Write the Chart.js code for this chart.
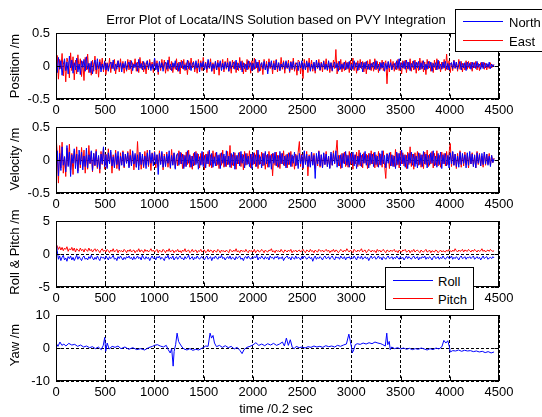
<!DOCTYPE html>
<html>
<head>
<meta charset="utf-8">
<script src="https://cdn.jsdelivr.net/npm/chart.js@4"></script>
<style>
  body { margin: 0; background: #fff; }
  #fig { position: relative; width: 542px; height: 417px; background: #fff; overflow: hidden;
         font-family: "Liberation Sans", Arial, sans-serif; font-size: 13px; color: #000; }
  #fig canvas { position: absolute; left: 0; top: 0; }
  .txt { position: absolute; white-space: nowrap; z-index: 5; }
  .ylab { transform: translate(-50%, -50%) rotate(-90deg); }
  .legend { position: absolute; z-index: 6; background: #fff; border: 1px solid #000; box-sizing: border-box; }
  .legend .ln { position: absolute; height: 0; border-top: 1px solid; }
  .legend .lt { position: absolute; white-space: nowrap; transform: translateY(-50%); }
</style>
</head>
<body>
<div id="fig">
  <canvas id="c1" width="542" height="417"></canvas>
  <canvas id="c2" width="542" height="417"></canvas>
  <canvas id="c3" width="542" height="417"></canvas>
  <canvas id="c4" width="542" height="417"></canvas>

  <div class="txt" style="left:276px; top:19px; transform:translate(-50%,-50%);">Error Plot of Locata/INS Solution based on PVY Integration</div>
  <div class="txt ylab" style="left:14px; top:66px;">Position /m</div>
  <div class="txt ylab" style="left:14px; top:159px;">Velocity /m</div>
  <div class="txt ylab" style="left:14px; top:252px;">Roll &amp; Pitch /m</div>
  <div class="txt ylab" style="left:14px; top:345px;">Yaw /m</div>
  <div class="txt" style="left:276px; top:408px; transform:translate(-50%,-50%);">time /0.2 sec</div>

  <div class="legend" style="left:455px; top:9px; width:100px; height:43px;">
    <div class="ln" style="left:7px; width:40px; top:11px; border-color:#0000ff;"></div>
    <div class="lt" style="left:53px; top:12px;">North</div>
    <div class="ln" style="left:7px; width:40px; top:30px; border-color:#ff0000;"></div>
    <div class="lt" style="left:53px; top:31px;">East</div>
  </div>
  <div class="legend" style="left:385px; top:267px; width:89px; height:43px;">
    <div class="ln" style="left:7px; width:40px; top:12px; border-color:#0000ff;"></div>
    <div class="lt" style="left:52px; top:13px;">Roll</div>
    <div class="ln" style="left:7px; width:40px; top:30px; border-color:#ff0000;"></div>
    <div class="lt" style="left:52px; top:31px;">Pitch</div>
  </div>
</div>

<script>
// error samples (position / velocity in m, roll & pitch, yaw)
const posNorth = [
  0.04,-0.1,0.13,-0.05,0.08,-0.14,0.02,0.11,-0.07,0.06,-0.12,0.15,-0.03,0.09,-0.11,0.05,-0.06,0.12,-0.09,0.03,
  -0.13,0.08,-0.02,0.1,-0.08,0.14,-0.05,0.04,-0.1,0.07,-0.12,0.02,0.09,-0.06,0.11,-0.04,0.06,-0.09,0.03,-0.05,
  0.07,-0.06,0.04,-0.08,0.02,0.06,-0.04,0.09,-0.07,0.03,-0.05,0.08,-0.02,0.05,-0.09,0.04,-0.03,0.07,-0.06,0.02,
  0.06,-0.04,0.08,-0.07,0.03,-0.02,0.05,-0.08,0.1,-0.03,0.04,-0.06,0.07,-0.05,0.02,0.08,-0.04,0.05,-0.07,0.03,
  -0.05,0.12,-0.06,0.04,-0.09,0.07,-0.03,0.05,-0.08,0.02,0.06,-0.05,0.09,-0.04,0.03,-0.07,0.05,-0.02,0.08,-0.06,
  0.04,-0.08,0.06,-0.03,0.07,-0.05,0.02,-0.06,0.09,-0.04,0.05,-0.07,0.03,0.06,-0.05,0.08,-0.03,0.04,-0.09,0.05,
  -0.02,0.07,-0.06,0.04,-0.05,0.1,-0.03,0.06,-0.08,0.03,-0.04,0.07,-0.06,0.05,-0.02,0.08,-0.07,0.04,-0.05,0.06,
  -0.03,0.05,-0.08,0.07,-0.04,0.02,0.06,-0.05,0.09,-0.06,0.04,-0.03,0.07,-0.09,0.05,-0.04,0.03,-0.06,0.08,-0.02,
  0.05,-0.07,0.04,-0.05,0.1,-0.03,0.06,-0.08,0.02,0.05,-0.04,0.07,-0.06,0.03,-0.12,0.06,-0.02,0.08,-0.05,0.04,
  -0.06,0.09,-0.04,0.05,-0.07,0.03,-0.02,0.06,-0.05,0.08,-0.03,0.04,-0.08,0.06,-0.04,0.07,-0.05,0.02,0.05,-0.07,
  0.06,-0.03,0.08,-0.05,0.04,-0.06,0.07,-0.02,0.05,-0.08,0.03,-0.04,0.06,-0.07,0.09,-0.03,0.05,-0.06,0.04,-0.02,
  0.07,-0.05,0.03,-0.06,0.08,-0.04,0.05,-0.07,0.02,0.06,-0.03,0.04,-0.08,0.07,-0.05,0.03,-0.04,0.06,-0.06,0.05,
  -0.04,0.07,-0.06,0.03,-0.05,0.08,-0.02,0.05,-0.07,0.04,-0.03,0.06,-0.09,0.05,-0.04,0.07,-0.05,0.03,-0.06,0.04,
  -0.02,0.06,-0.05,0.08,-0.04,0.03,-0.07,0.05,-0.03,0.06,-0.08,0.04,-0.05,0.07,-0.03,0.05,-0.06,0.02,0.04,-0.05,
  0.08,-0.04,0.11,-0.06,0.05,-0.03,0.07,-0.05,0.09,-0.04,0.06,-0.07,0.04,-0.02,0.08,-0.05,0.06,-0.03,0.07,-0.06,
  0.05,-0.04,0.08,-0.06,0.03,-0.05,0.07,-0.03,0.06,-0.08,0.04,-0.02,0.05,-0.06,0.09,-0.04,0.03,-0.05,0.06,-0.03,
  0.07,-0.05,0.04,-0.06,0.03,0.05,-0.04,0.08,-0.03,0.06,-0.05,0.02,0.07,-0.06,0.04,-0.03,0.05,-0.07,0.06,-0.02,
  0.04,-0.05,0.06,-0.03,0.05,-0.04,0.07,-0.02,0.03,-0.05,0.06,-0.04,0.05,-0.03,0.04,-0.02,0.06,-0.04,0.03,-0.01,
  0.02
];
const posEast = [
  -0.08,0.16,-0.2,0.1,-0.04,0.19,-0.15,0.08,-0.24,0.12,0.05,-0.18,0.2,-0.07,0.14,-0.21,0.09,-0.12,0.17,-0.05,
  0.11,-0.16,0.07,-0.22,0.13,-0.06,0.18,-0.1,0.04,-0.14,0.09,-0.08,0.15,-0.12,0.06,-0.17,0.1,-0.04,0.12,-0.09,
  0.08,-0.13,0.05,-0.07,0.12,-0.1,0.06,-0.04,0.1,-0.12,0.03,0.08,-0.09,0.11,-0.05,0.07,-0.11,0.04,-0.08,0.1,
  -0.06,0.09,-0.12,0.05,-0.03,0.11,-0.08,0.06,-0.1,0.13,-0.04,0.07,-0.09,0.05,-0.12,0.08,-0.06,0.1,-0.03,0.06,
  -0.1,0.12,-0.05,0.08,-0.13,0.06,-0.07,0.1,-0.04,0.09,-0.11,0.05,-0.08,0.14,-0.06,0.07,-0.1,0.04,-0.05,0.11,
  -0.08,0.06,-0.12,0.09,-0.04,0.1,-0.07,0.05,-0.13,0.08,-0.06,0.12,-0.03,0.07,-0.09,0.05,-0.11,0.1,-0.05,0.08,
  -0.07,0.13,-0.05,0.06,-0.1,0.08,-0.04,0.11,-0.08,0.05,-0.12,0.07,-0.06,0.09,-0.14,0.06,-0.03,0.1,-0.09,0.07,
  -0.05,0.12,-0.08,0.06,-0.11,0.09,-0.04,0.07,-0.1,0.05,-0.07,0.13,-0.06,0.08,-0.12,0.04,-0.09,0.1,-0.05,0.07,
  -0.11,0.08,-0.06,0.12,-0.04,0.06,-0.1,0.09,-0.07,0.05,-0.13,0.1,-0.05,0.07,-0.08,0.11,-0.04,0.06,-0.12,0.08,
  -0.06,0.1,-0.09,0.05,-0.07,0.13,-0.05,0.08,-0.11,0.06,-0.04,0.09,-0.1,0.07,-0.06,0.12,-0.08,0.05,-0.14,0.09,
  0.07,-0.12,0.06,-0.19,0.1,-0.05,0.08,-0.1,0.12,-0.06,0.09,-0.08,0.05,-0.11,0.07,-0.04,0.1,-0.07,0.06,-0.09,
  0.08,-0.05,0.11,-0.07,0.06,-0.1,0.05,-0.08,0.09,-0.04,0.25,-0.12,0.07,-0.06,0.1,-0.09,0.05,-0.07,0.08,-0.05,
  0.06,-0.1,0.09,-0.05,0.12,-0.07,0.05,-0.11,0.08,-0.06,0.1,-0.04,0.07,-0.09,0.06,-0.12,0.08,-0.05,0.1,-0.07,
  0.05,-0.08,0.11,-0.06,0.07,-0.1,0.06,-0.05,0.09,-0.07,0.04,0.08,-0.27,0.06,-0.09,0.1,-0.05,0.07,-0.08,0.05,
  -0.06,0.1,-0.07,0.05,-0.12,0.08,-0.04,0.09,-0.1,0.06,-0.05,0.11,-0.08,0.07,-0.06,0.09,-0.11,0.05,-0.07,0.12,
  -0.05,0.08,-0.09,0.06,-0.13,0.1,-0.04,0.07,-0.08,0.05,-0.1,0.09,-0.06,0.11,-0.05,0.07,-0.09,0.06,-0.04,0.1,
  -0.07,0.18,-0.06,0.08,-0.1,0.05,-0.07,0.09,-0.04,0.06,-0.08,0.1,-0.05,0.07,-0.09,0.04,-0.06,0.08,-0.05,0.07,
  -0.04,0.06,-0.08,0.05,-0.03,0.07,-0.06,0.04,-0.07,0.05,-0.02,0.06,-0.05,0.04,-0.06,0.03,-0.04,0.05,-0.03,0.02,
  0.01
];
const velNorth = [
  -0.06,0.14,-0.24,0.1,-0.16,0.2,-0.08,0.05,-0.18,0.22,-0.1,0.12,-0.25,0.08,-0.05,0.17,-0.13,0.09,-0.2,0.15,
  -0.07,0.12,-0.15,0.06,-0.1,0.18,-0.12,0.08,-0.05,0.14,-0.16,0.1,-0.08,0.13,-0.11,0.07,-0.14,0.09,-0.06,0.2,
  -0.1,0.08,-0.13,0.11,-0.06,0.15,-0.09,0.05,-0.12,0.1,-0.07,0.13,-0.14,0.06,-0.08,0.12,-0.1,0.09,-0.05,0.11,
  -0.12,0.07,-0.09,0.14,-0.06,0.1,-0.11,0.08,-0.15,0.12,-0.07,0.09,-0.1,0.06,-0.13,0.11,-0.08,0.15,-0.05,0.1,
  -0.09,0.12,-0.06,0.08,-0.22,0.1,-0.07,0.13,-0.11,0.06,-0.1,0.09,-0.05,0.14,-0.12,0.07,-0.08,0.11,-0.14,0.06,
  0.1,-0.08,0.12,-0.06,0.09,-0.13,0.07,-0.1,0.14,-0.05,0.08,-0.11,0.06,-0.09,0.12,-0.07,0.1,-0.14,0.05,-0.08,
  0.13,-0.1,0.07,-0.12,0.09,-0.06,0.15,-0.08,0.1,-0.11,0.05,-0.09,0.12,-0.07,0.08,-0.13,0.11,-0.05,0.09,-0.1,
  0.14,-0.07,0.06,-0.11,0.1,-0.08,0.12,-0.14,0.07,-0.06,0.11,-0.09,0.13,-0.05,0.08,-0.12,0.1,-0.07,0.06,-0.1,
  0.09,-0.13,0.11,-0.06,0.08,-0.1,0.15,-0.07,0.05,-0.12,0.1,-0.08,0.13,-0.06,0.09,-0.11,0.07,-0.14,0.1,-0.05,
  0.12,-0.09,0.07,-0.11,0.13,-0.06,0.1,-0.08,0.06,-0.12,0.09,-0.07,0.11,-0.1,0.08,-0.05,0.12,-0.09,0.07,-0.13,
  0.1,-0.06,0.08,-0.12,0.14,-0.07,0.09,-0.1,0.06,-0.11,0.12,-0.08,0.07,-0.28,0.1,-0.06,0.13,-0.09,0.08,-0.12,
  0.11,-0.07,0.09,-0.1,0.06,-0.13,0.12,-0.08,0.1,-0.05,0.14,-0.11,0.07,-0.09,0.08,-0.12,0.1,-0.06,0.13,-0.08,
  0.07,-0.11,0.1,-0.06,0.12,-0.09,0.08,-0.13,0.06,-0.07,0.11,-0.1,0.09,-0.05,0.13,-0.08,0.07,-0.12,0.1,-0.06,
  0.09,-0.1,0.12,-0.07,0.06,-0.11,0.1,-0.08,0.14,-0.06,0.07,-0.12,0.09,-0.05,0.11,-0.09,0.08,-0.1,0.06,-0.13,
  0.12,-0.07,0.1,-0.09,0.15,-0.06,0.08,-0.11,0.07,-0.13,0.1,-0.05,0.12,-0.08,0.09,-0.1,0.06,-0.12,0.11,-0.07,
  0.08,-0.1,0.13,-0.06,0.09,-0.12,0.07,-0.08,0.11,-0.05,0.14,-0.09,0.06,-0.11,0.1,-0.07,0.12,-0.13,0.08,-0.06,
  0.1,-0.09,0.07,-0.12,0.11,-0.06,0.13,-0.08,0.09,-0.1,0.06,-0.11,0.12,-0.07,0.1,-0.05,0.08,-0.12,0.11,-0.08,
  0.13,-0.06,0.09,-0.1,0.07,-0.12,0.11,-0.05,0.08,-0.09,0.1,-0.07,0.12,-0.06,0.09,-0.08,0.06,-0.1,0.07,-0.04,
  0.02
];
const velEast = [
  0.38,0.1,-0.35,0.22,-0.12,0.27,-0.2,0.05,-0.25,0.18,-0.08,0.24,-0.15,0.1,-0.22,0.14,-0.05,0.2,-0.17,0.08,
  -0.12,0.19,-0.1,0.15,-0.2,0.07,-0.14,0.22,-0.06,0.12,-0.18,0.1,-0.09,0.16,-0.13,0.05,-0.2,0.13,-0.07,0.18,
  -0.14,0.09,-0.11,0.17,-0.06,0.12,-0.2,0.08,-0.1,0.15,-0.13,0.06,-0.16,0.11,-0.07,0.14,-0.12,0.09,-0.05,0.13,
  -0.1,0.16,-0.08,0.12,-0.15,0.07,-0.11,0.28,-0.09,0.1,-0.14,0.06,-0.12,0.13,-0.07,0.15,-0.1,0.08,-0.16,0.11,
  -0.05,0.13,-0.12,0.08,-0.1,0.14,-0.06,0.11,-0.15,0.09,-0.08,0.12,-0.11,0.06,-0.13,0.16,-0.07,0.1,-0.12,0.08,
  -0.09,0.14,-0.06,0.11,-0.13,0.08,-0.1,0.12,-0.07,0.15,-0.11,0.06,-0.14,0.1,-0.08,0.13,-0.05,0.09,-0.12,0.1,
  -0.07,0.12,-0.15,0.09,-0.06,0.13,-0.1,0.08,-0.12,0.14,-0.05,0.11,-0.09,0.07,-0.13,0.1,-0.08,0.15,-0.11,0.06,
  -0.1,0.13,-0.07,0.22,-0.12,0.08,-0.09,0.11,-0.14,0.07,-0.06,0.12,-0.1,0.09,-0.15,0.13,-0.08,0.1,-0.06,0.14,
  -0.12,0.09,-0.07,0.11,-0.1,0.15,-0.13,0.08,-0.06,0.12,-0.09,0.1,-0.14,0.07,-0.11,0.13,-0.05,0.09,-0.24,0.1,
  -0.08,0.12,-0.11,0.07,-0.13,0.1,-0.06,0.14,-0.09,0.08,-0.12,0.11,-0.07,0.13,-0.1,0.06,-0.14,0.09,-0.08,0.12,
  0.28,-0.1,0.09,-0.14,0.11,-0.06,0.13,-0.24,0.08,-0.1,0.12,-0.07,0.1,-0.13,0.06,-0.09,0.14,-0.11,0.08,-0.12,
  0.1,-0.07,0.13,-0.1,0.06,-0.12,0.09,-0.08,0.14,-0.06,0.11,0.3,-0.09,0.07,-0.13,0.1,-0.05,0.12,-0.1,0.08,
  -0.11,0.13,-0.07,0.1,-0.14,0.08,-0.06,0.12,-0.1,0.15,-0.09,0.07,-0.12,0.11,-0.05,0.09,-0.13,0.1,-0.08,0.14,
  -0.06,0.11,-0.12,0.08,-0.1,0.13,-0.07,0.09,-0.11,0.14,-0.08,-0.28,0.1,0.06,-0.13,0.12,-0.09,0.07,-0.1,0.16,
  -0.08,0.1,-0.12,0.14,-0.06,0.11,-0.09,0.08,-0.13,0.12,-0.07,0.2,-0.1,0.09,-0.14,0.11,-0.06,0.13,-0.08,0.1,
  -0.11,0.08,-0.13,0.12,-0.07,0.15,-0.1,0.09,-0.06,0.13,-0.12,0.1,-0.08,0.14,-0.09,0.07,-0.11,0.12,-0.06,0.1,
  -0.09,0.13,-0.07,0.11,0.25,-0.1,0.12,-0.08,0.09,-0.13,0.1,-0.06,0.14,-0.11,0.08,-0.09,0.12,-0.07,0.1,-0.12,
  0.09,-0.06,0.11,-0.1,0.08,-0.12,0.13,-0.07,0.1,-0.09,0.06,-0.11,0.12,-0.08,0.09,-0.06,0.1,-0.08,0.07,-0.04,
  0.03
];
const roll = [
  2.0,0.5,-0.8,-0.3,-1.0,-0.5,-0.2,-0.9,-0.6,-1.1,-0.4,-0.7,-0.3,-0.9,-0.5,-1.0,-0.6,-0.2,-0.8,-0.4,
  -0.7,-1.0,-0.5,-0.3,-0.8,-0.6,-0.9,-0.4,-0.7,-0.2,-0.6,-0.9,-0.5,-0.8,-0.3,-0.7,-1.0,-0.4,-0.6,-0.5,
  -0.8,-0.3,-0.6,-0.9,-0.4,-0.7,-0.5,-0.2,-0.8,-0.6,-1.0,-0.4,-0.7,-0.3,-0.6,-0.9,-0.5,-0.8,-0.4,-0.6,
  -0.3,-0.7,-0.5,-0.9,-0.4,-0.8,-0.6,-0.3,-0.7,-0.5,-0.9,-0.2,-0.6,-0.8,-0.4,-0.7,-0.5,-1.0,-0.6,-0.3,
  -0.7,-0.5,-0.9,-0.4,-0.6,-0.3,-0.8,-0.5,-0.7,-1.0,-0.4,-0.6,-0.2,-0.8,-0.5,-0.7,-0.3,-0.9,-0.6,-0.4,
  -0.8,-0.5,-0.3,-0.7,-0.6,-0.9,-0.4,-0.7,-0.5,-0.2,-0.8,-0.6,-0.4,-0.9,-0.5,-0.7,-0.3,-0.6,-0.8,-0.5,
  -0.4,-0.7,-0.9,-0.5,-0.3,-0.8,-0.6,-0.4,-1.0,-0.5,-0.7,-0.3,-0.6,-0.8,-0.4,-0.6,-0.2,-0.7,-0.5,-0.9,
  -0.6,-0.4,-0.7,-0.3,-0.8,-0.5,-0.6,-0.9,-0.4,-0.7,-0.5,-0.3,-0.8,-0.6,-1.0,-0.5,-0.4,-0.7,-0.3,-0.6,
  -0.8,-0.5,-0.7,-0.4,-0.6,-0.2,-0.9,-0.5,-0.7,-0.3,-0.6,-0.8,-0.4,-0.7,-0.5,-0.9,-0.3,-0.6,-0.5,-0.8,
  -0.4,-0.6,-0.3,-0.8,-0.5,-0.7,-0.4,-1.0,-0.6,-0.5,-0.3,-0.7,-0.5,-0.9,-0.4,-0.6,-0.8,-0.3,-0.7,-0.5,
  -0.6,-0.9,-0.4,-0.7,-0.3,-0.5,-0.8,-0.6,-0.4,-0.7,-0.5,-1.1,-0.6,-0.3,-0.8,-0.5,-0.7,-0.4,-0.6,-0.9,
  -0.5,-0.3,-0.7,-0.6,-0.4,-0.8,-0.5,-0.3,-0.7,-0.9,-0.4,-0.6,-0.5,-0.8,-0.3,-0.6,-0.7,-0.4,-0.9,-0.5,
  -0.6,-0.4,-0.8,-0.5,-0.7,-0.3,-0.6,-0.9,-0.4,-0.5,-0.7,-0.3,-0.8,-0.6,-0.4,-0.7,-0.5,-1.0,-0.6,-0.3,
  -0.7,-0.5,-0.4,-0.8,-0.6,-0.3,-0.7,-0.5,-0.9,-0.4,-0.6,-0.8,-0.5,-0.3,-0.7,-0.6,-0.4,-0.8,-0.5,-0.7,
  -0.3,-0.6,-0.8,-0.4,-0.7,-0.5,-0.9,-0.6,-0.3,-0.7,-0.4,-0.6,-0.8,-0.5,-0.3,-0.7,-0.6,-0.4,-0.9,-0.5,
  -0.7,-0.4,-0.6,-0.3,-0.8,-0.5,-0.7,-0.4,-0.6,-0.9,-0.5,-0.3,-0.7,-0.6,-0.4,-0.8,-0.5,-0.7,-0.3,-0.6,
  -0.8,-0.5,-0.4,-0.7,-0.6,-0.3,-0.8,-0.5,-0.7,-0.4,-0.6,-0.9,-0.5,-0.3,-0.7,-0.6,-0.4,-0.8,-0.5,-0.6,
  -0.4,-0.7,-0.5,-0.3,-0.8,-0.6,-0.4,-0.7,-0.5,-0.9,-0.6,-0.3,-0.7,-0.5,-0.4,-0.8,-0.6,-0.5,-0.7,-0.4,
  -0.6
];
const pitch = [
  1.5,1.2,0.7,1.1,0.6,1.0,0.5,0.9,0.7,1.1,0.4,0.8,0.6,1.0,0.5,0.9,0.3,0.8,0.6,0.4,
  0.9,0.5,0.7,0.3,0.8,0.6,0.4,0.9,0.5,0.7,0.3,0.6,0.8,0.4,0.7,0.5,0.2,0.6,0.8,0.4,
  0.6,0.3,0.7,0.5,0.2,0.6,0.4,0.8,0.3,0.5,0.7,0.2,0.6,0.4,0.5,0.3,0.7,0.5,0.2,0.6,
  0.4,0.7,0.3,0.5,0.6,0.2,0.5,0.4,0.8,0.3,0.6,0.5,0.2,0.7,0.4,0.6,0.3,0.5,0.8,0.4,
  0.6,0.3,0.5,0.7,0.2,0.6,0.4,0.3,0.7,0.5,0.2,0.6,0.4,0.8,0.3,0.5,0.6,0.2,0.5,0.4,
  0.7,0.3,0.5,0.2,0.6,0.4,0.8,0.3,0.5,0.6,0.2,0.4,0.7,0.3,0.5,0.6,0.2,0.5,0.4,0.7,
  0.3,0.5,0.6,0.2,0.4,0.7,0.3,0.6,0.5,0.2,0.6,0.4,0.3,0.7,0.5,0.2,0.6,0.4,0.5,0.3,
  0.6,0.4,0.2,0.7,0.5,0.3,0.6,0.4,0.8,0.3,0.5,0.2,0.6,0.4,0.5,0.3,0.7,0.4,0.2,0.6,
  0.4,0.5,0.3,0.7,0.2,0.5,0.6,0.3,0.4,0.7,0.5,0.2,0.6,0.4,0.3,0.6,0.5,0.8,0.3,0.5,
  0.2,0.6,0.4,0.5,0.3,0.7,0.4,0.2,0.6,0.5,0.3,0.6,0.4,0.7,0.2,0.5,0.4,0.6,0.3,0.5,
  0.6,0.3,0.5,0.7,0.4,0.2,0.6,0.5,0.3,0.7,0.4,0.5,0.2,0.6,0.4,0.3,0.7,0.5,0.4,0.6,
  0.3,0.5,0.7,0.4,0.6,0.2,0.5,0.4,0.7,0.3,0.6,0.5,0.2,0.4,0.7,0.5,0.3,0.6,0.4,0.8,
  0.5,0.3,0.6,0.4,0.2,0.7,0.5,0.3,0.6,0.4,0.5,0.8,0.3,0.5,0.6,0.2,0.4,0.7,0.5,0.3,
  0.6,0.4,0.5,0.2,0.7,0.4,0.6,0.3,0.5,0.7,0.4,0.2,0.6,0.5,0.3,0.6,0.4,0.5,0.7,0.3,
  0.5,0.2,0.6,0.4,0.3,0.6,0.5,0.7,0.3,0.4,0.6,0.2,0.5,0.4,0.7,0.3,0.5,0.6,0.4,0.2,
  0.6,0.4,0.3,0.5,0.7,0.3,0.4,0.6,0.2,0.5,0.4,0.3,0.6,0.5,0.2,0.4,0.6,0.3,0.5,0.4,
  0.3,0.6,0.4,0.7,0.5,0.3,0.6,0.4,0.8,0.5,0.3,0.6,0.4,0.5,0.7,0.3,0.6,0.5,0.4,0.7,
  0.5,0.3,0.6,0.4,0.7,0.5,0.3,0.6,0.4,0.5,0.8,0.4,0.6,0.3,0.5,0.6,0.4,0.7,0.5,0.4,
  0.5
];
const yawTime = [
  0,20,40,60,80,100,130,160,190,220,250,280,310,340,370,400,430,460,480,495,505,520,540,570,600,630,660,700,740,780,820,860,900,940,980,
  1000,1030,1060,1090,1120,1140,1160,1175,1190,1200,1215,1230,1245,1260,1280,1300,1330,1360,1390,1420,1450,1480,1500,1520,1545,1565,1580,1595,1610,1630,1660,1690,1720,1750,1780,1810,1840,1870,1890,1910,1940,1970,
  2000,2030,2060,2090,2120,2150,2180,2210,2240,2270,2300,2320,2340,2360,2380,2400,2420,2440,2470,
  2500,2530,2560,2590,2620,2650,2680,2710,2740,2770,2800,2830,2860,2890,2920,2950,2975,2990,3000,3010,3025,3040,3060,3090,3120,3150,3180,3210,3240,3270,3300,3320,3345,3360,3370,3385,3395,3410,3440,3470,
  3500,3530,3560,3590,3620,3650,3680,3710,3740,3770,3800,3830,3860,3890,3920,3940,3960,3980,3995,4005,4030,4060,4090,4120,4150,4180,4210,4240,4270,4300,4330,4360,4390,4420,4450
];
const yawValue = [
  1.5,0.5,1.8,0.8,1.2,0.6,1.4,0.9,1.1,0.5,0.9,0.3,0.6,0.1,0.4,-0.2,0.3,-0.5,0.8,3.2,-1.0,1.5,-0.3,0.5,0.2,0.6,-0.2,0.3,-0.4,0.1,-0.5,-0.2,-0.6,0.1,0.5,
  0.8,1.0,0.6,0.3,0.8,-0.5,-1.5,-0.2,-5.5,-1.0,1.0,4.5,2.0,1.2,0.3,-0.3,-0.6,-0.2,-0.7,-0.4,-0.6,-0.1,0.2,0.6,0.5,4.5,3.0,3.8,1.5,0.4,0.8,0.2,0.7,0.1,0.5,-0.3,0.2,-0.8,-1.7,-0.5,0.2,0.5,
  0.9,1.6,0.8,1.2,0.7,1.3,0.9,1.4,0.8,1.2,1.8,0.6,3.0,0.8,2.5,0.2,-0.2,0.5,0.1,
  0.3,0.0,0.4,0.2,0.6,0.3,0.5,0.2,0.7,0.4,0.6,0.3,0.8,0.5,0.9,1.2,4.2,2.0,0.5,-1.5,-0.5,1.0,1.3,1.1,1.5,1.2,1.6,1.3,1.8,1.5,1.3,1.0,0.6,4.5,1.0,2.0,-0.5,0.3,-0.2,0.1,
  -0.3,0.0,-0.4,-0.1,-0.5,-0.2,-0.4,0.0,-0.3,-0.6,-0.2,-0.5,0.0,-0.3,0.4,2.3,1.5,2.2,0.5,-1.2,-0.8,-0.9,-0.6,-1.0,-0.7,-0.9,-0.8,-1.1,-0.9,-1.2,-1.0,-1.4,-1.1,-1.5,-1.2
];

const LAST_SAMPLE = 4450;   // data stops a little before the 4500 axis end
const BLUE = '#0000ff', RED = '#ff0000';

Chart.defaults.font.family = '"Liberation Sans", Arial, sans-serif';
Chart.defaults.font.size = 13;
Chart.defaults.color = '#000';

function samples(vals) {
  const dt = LAST_SAMPLE / (vals.length - 1);
  return vals.map((v, i) => ({ x: i * dt, y: v }));
}

// box round the axes with small inward ticks, like the MATLAB axes
const framePlugin = {
  id: 'frame',
  afterDraw(chart) {
    const { ctx, chartArea: a, scales } = chart;
    const l = Math.round(a.left) + 0.5, r = Math.round(a.right) - 0.5;
    const t = Math.round(a.top) + 0.5, b = Math.round(a.bottom) - 0.5;
    ctx.save();
    ctx.strokeStyle = '#000';
    ctx.lineWidth = 1;
    ctx.strokeRect(l, t, r - l, b - t);
    ctx.beginPath();
    scales.x.ticks.forEach(tk => {
      const x = Math.round(scales.x.getPixelForValue(tk.value)) + 0.5;
      ctx.moveTo(x, t); ctx.lineTo(x, t + 4);
      ctx.moveTo(x, b); ctx.lineTo(x, b - 4);
    });
    scales.y.ticks.forEach(tk => {
      const y = Math.round(scales.y.getPixelForValue(tk.value)) + 0.5;
      ctx.moveTo(l, y); ctx.lineTo(l + 4, y);
      ctx.moveTo(r, y); ctx.lineTo(r - 4, y);
    });
    ctx.stroke();
    ctx.restore();
  }
};

function makePanel(id, top, bottom, yMin, yMax, yStep, datasets) {
  new Chart(document.getElementById(id), {
    type: 'line',
    data: { datasets },
    options: {
      responsive: false,
      animation: false,
      events: [],
      layout: { padding: { left: 0, right: 43, top: top, bottom: 417 - bottom - 20 } },
      elements: { point: { radius: 0 }, line: { borderWidth: 1, tension: 0 } },
      plugins: { legend: { display: false }, tooltip: { enabled: false } },
      scales: {
        x: {
          type: 'linear', min: 0, max: 4500,
          ticks: { stepSize: 500, padding: 4, maxRotation: 0, callback: v => String(v) },
          grid: { color: '#000', drawTicks: false },
          border: { display: false, dash: [3, 2] },
          afterFit: s => { s.height = 20; }
        },
        y: {
          min: yMin, max: yMax,
          ticks: { stepSize: yStep, padding: 6, callback: v => String(v) },
          grid: { color: '#000', drawTicks: false },
          border: { display: false, dash: [3, 2] },
          afterFit: s => { s.width = 56; }
        }
      }
    },
    plugins: [framePlugin]
  });
}

const line = (label, vals, color) => ({ label, data: samples(vals), borderColor: color, fill: false });

makePanel('c1', 33, 99, -0.5, 0.5, 0.5, [line('North', posNorth, BLUE), line('East', posEast, RED)]);
makePanel('c2', 127, 193, -0.5, 0.5, 0.5, [line('North', velNorth, BLUE), line('East', velEast, RED)]);
makePanel('c3', 221, 287, -5, 5, 5, [line('Roll', roll, BLUE), line('Pitch', pitch, RED)]);
makePanel('c4', 315, 381, -10, 10, 10, [{
  label: 'Yaw',
  data: yawTime.map((t, i) => ({ x: t, y: yawValue[i] })),
  borderColor: BLUE, fill: false
}]);
</script>
</body>
</html>
